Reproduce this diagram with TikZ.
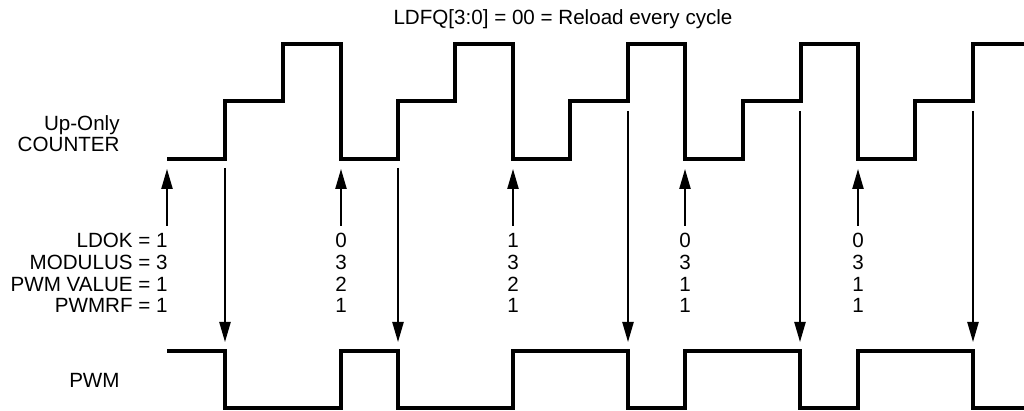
\documentclass[tikz,border=0pt]{standalone}
\usepackage{fontspec}
\setmainfont{Liberation Sans}
\usetikzlibrary{arrows.meta}
\tikzset{
  wave/.style={line width=1.6pt},
  trig/.style={line width=0.85pt, -{Triangle[length=10pt, width=5.6pt]}},
  lbl/.style={anchor=base east, inner sep=0pt, font=\fontsize{10.3}{12}\selectfont},
  val/.style={anchor=base, inner sep=0pt, font=\fontsize{10.3}{12}\selectfont}
}

\begin{document}
\begin{tikzpicture}[x=0.5pt, y=-0.5pt]
    \useasboundingbox (0,0) rectangle (1024,411);

    % Title
    \node[val] (title) at (563,25) {LDFQ[3:0] = 00 = Reload every cycle};

    % Signal names
    \node[lbl] (upo) at (120,131) {Up-Only};
    \node[lbl] (cnt) at (120,152) {COUNTER};
    \node[lbl] (pwm) at (120,388) {PWM};

    % Counter
    \draw[wave] (167,159) -| (225,101) -| (283,44) -| (341,159) -| (398,101) -| (455,44)
      -| (513,159) -| (570,101) -| (628,44) -| (685,159) -| (743,101) -| (801,44)
      -| (858,159) -| (915,101) -| (973,44) -- (1024,44);

    % PWM output
    \draw[wave] (167,351) -| (225,408) -| (341,351) -| (398,408) -| (513,351) -| (628,408)
      -| (685,351) -| (800,408) -| (858,351) -| (973,408) -- (1024,408);

    % Reload arrows
    \foreach \x [count=\i] in {167,341,513,685,858} {
      \coordinate (ld\i) at (\x,226);
      \coordinate (rl\i) at (\x,169);
      \draw[trig] (ld\i) -- (rl\i);
    }

    % Edge arrows
    \foreach \x/\y [count=\i] in {225/168,398/168,628/111,800/111,973/111} {
      \coordinate (ce\i) at (\x,\y);
      \coordinate (pe\i) at (\x,342);
      \draw[trig] (ce\i) -- (pe\i);
    }

    % Register values
    \node[lbl] (ldok) at (168,248) {LDOK = 1};
    \node[lbl] (mod) at (168,270) {MODULUS = 3};
    \node[lbl] (pwmval) at (168,292) {PWM VALUE = 1};
    \node[lbl] (pwmrf) at (168,313) {PWMRF = 1};
    \foreach \x/\a/\b/\c/\d [count=\i] in {341/0/3/2/1, 513/1/3/2/1, 685/0/3/1/1, 858/0/3/1/1} {
      \node[val] (ldok\i) at (\x,248) {\a};
      \node[val] (mod\i) at (\x,270) {\b};
      \node[val] (pwmval\i) at (\x,292) {\c};
      \node[val] (pwmrf\i) at (\x,313) {\d};
    }
  \end{tikzpicture}
\end{document}
